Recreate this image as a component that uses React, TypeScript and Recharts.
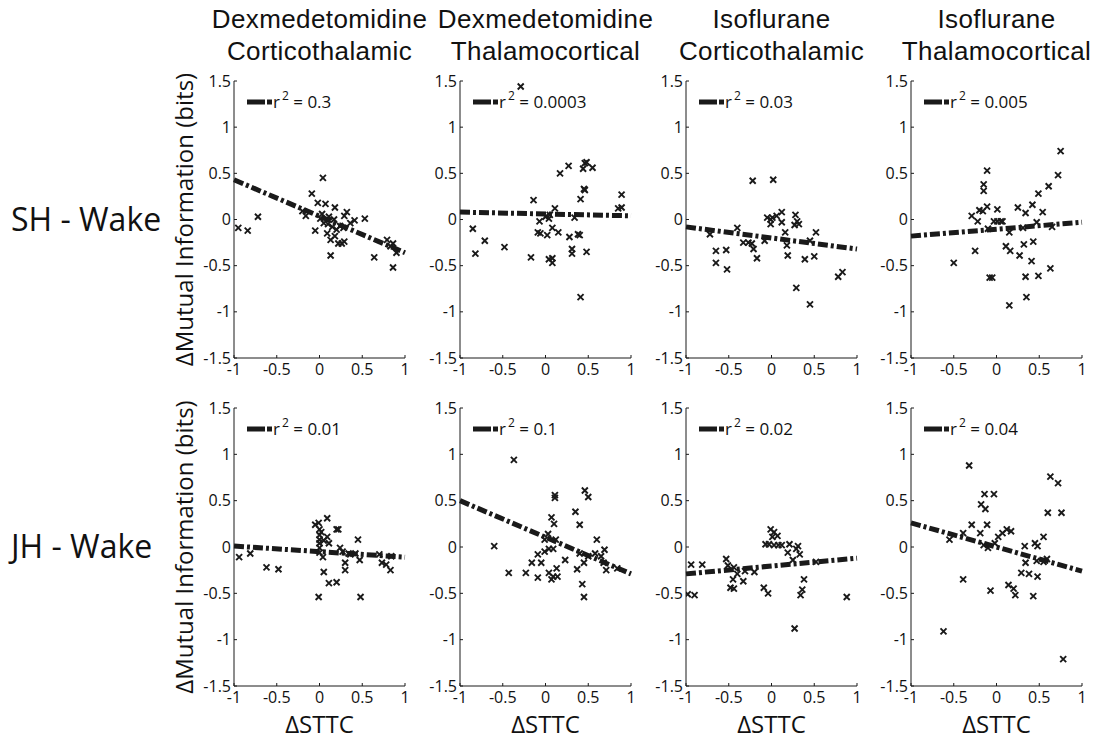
import React from 'react';
import { ScatterChart, Scatter, XAxis, YAxis, ReferenceLine } from 'recharts';

const titleLine1 = ['Dexmedetomidine', 'Dexmedetomidine', 'Isoflurane', 'Isoflurane'];
const titleLine2 = ['Corticothalamic', 'Thalamocortical', 'Corticothalamic', 'Thalamocortical'];
const rowLabels = ['SH - Wake', 'JH - Wake'];
const yAxisLabel = 'ΔMutual Information (bits)';
const xAxisLabel = 'ΔSTTC';
const xTicks = [-1, -0.5, 0, 0.5, 1];
const yTicks = [-1.5, -1, -0.5, 0, 0.5, 1, 1.5];
const r2Values = ['0.3', '0.0003', '0.03', '0.005', '0.01', '0.1', '0.02', '0.04'];
const fitAtMinus1 = [0.43, 0.08, -0.08, -0.18, 0.01, 0.5, -0.29, 0.26];
const fitAtPlus1 = [-0.36, 0.04, -0.32, -0.03, -0.11, -0.29, -0.12, -0.26];

type P = [number, number];

const shDexCorticothalamic: P[] = [
  [-0.95, -0.09], [-0.84, -0.12], [-0.72, 0.03], [0.04, 0.45], [-0.09, 0.28], [-0.02, 0.18], [0.07, 0.17],
  [0.18, 0.13], [-0.2, 0.09], [-0.16, 0.04], [-0.05, -0.12], [0.13, -0.39], [0.32, 0.08], [0.29, 0.04],
  [0.41, -0.01], [0.53, 0.01], [0.64, -0.41], [0.86, -0.52], [0.79, -0.22], [0.86, -0.26], [0.9, -0.36],
  [0.83, -0.29], [0.05, -0.04], [0.09, -0.15], [0.15, -0.08], [0.18, -0.18], [0.2, -0.11], [0.24, -0.07],
  [0.28, -0.09], [0.22, -0.26], [0.26, -0.26], [0.17, 0.0], [0.11, 0.03], [0.01, 0.01], [0.13, -0.22],
  [0.29, -0.24], [0.03, 0.06], [0.1, -0.05], [0.36, -0.04],
];
const shDexThalamocortical: P[] = [
  [-0.29, 1.44], [-0.85, -0.1], [-0.82, -0.37], [-0.71, -0.23], [-0.48, -0.3], [-0.14, 0.21], [-0.17, -0.41],
  [-0.07, -0.02], [-0.09, -0.14], [-0.06, -0.15], [0.02, -0.17], [0.0, 0.03], [0.04, 0.01], [0.05, 0.05],
  [0.11, 0.12], [0.08, -0.09], [0.15, -0.14], [0.04, -0.43], [0.08, -0.42], [0.08, -0.47], [0.17, 0.5],
  [0.27, 0.58], [0.28, -0.19], [0.31, -0.32], [0.31, -0.37], [0.34, 0.02], [0.38, -0.16], [0.4, -0.17],
  [0.41, 0.22], [0.44, 0.55], [0.46, 0.61], [0.46, 0.32], [0.45, 0.33], [0.48, -0.35], [0.55, 0.56],
  [0.41, -0.84], [0.85, 0.12], [0.89, 0.27], [0.89, 0.13], [0.48, 0.62],
];
const shIsoCorticothalamic: P[] = [
  [-0.72, -0.16], [-0.65, -0.34], [-0.65, -0.47], [-0.53, -0.33], [-0.52, -0.54], [-0.4, -0.09], [-0.33, -0.25],
  [-0.27, -0.25], [-0.22, 0.42], [-0.23, -0.26], [-0.21, -0.32], [-0.17, -0.42], [-0.08, -0.23], [-0.05, 0.02],
  [-0.01, 0.0], [0.01, 0.02], [0.02, 0.43], [-0.01, -0.05], [0.06, 0.04], [0.12, 0.08], [0.12, -0.03],
  [0.16, -0.14], [0.18, -0.28], [0.19, -0.39], [0.27, -0.06], [0.28, 0.05], [0.3, -0.02], [0.32, -0.05],
  [0.29, -0.74], [0.39, -0.43], [0.45, -0.23], [0.45, -0.92], [0.5, -0.4], [0.52, -0.14], [0.78, -0.62],
  [0.83, -0.57],
];
const shIsoThalamocortical: P[] = [
  [-0.5, -0.47], [-0.29, 0.04], [-0.25, -0.34], [-0.22, -0.02], [-0.2, 0.1], [-0.16, 0.09], [-0.15, 0.38],
  [-0.15, 0.31], [-0.11, 0.53], [-0.11, 0.14], [-0.1, -0.1], [-0.08, -0.63], [-0.05, -0.63], [-0.03, -0.02],
  [0.01, 0.11], [0.01, -0.02], [0.05, -0.02], [0.07, -0.02], [0.11, -0.29], [0.15, -0.14], [0.16, -0.34],
  [0.15, -0.93], [0.25, 0.13], [0.27, -0.39], [0.31, -0.09], [0.32, -0.27], [0.34, 0.07], [0.34, -0.62],
  [0.35, -0.84], [0.42, 0.16], [0.43, -0.24], [0.41, -0.45], [0.47, -0.03], [0.49, 0.28], [0.49, -0.61],
  [0.54, 0.08], [0.61, 0.36], [0.63, -0.53], [0.65, -0.08], [0.72, 0.48], [0.75, 0.74],
];
const jhDexCorticothalamic: P[] = [
  [-0.94, -0.11], [-0.81, -0.07], [-0.62, -0.22], [-0.48, -0.24], [-0.05, 0.24], [-0.01, 0.26], [0.0, 0.19],
  [0.0, 0.13], [0.0, 0.08], [0.0, 0.04], [0.0, -0.01], [0.0, -0.06], [0.04, -0.11], [0.05, -0.27],
  [-0.01, -0.54], [0.09, 0.31], [0.09, 0.11], [0.11, 0.04], [0.11, -0.39], [0.2, -0.38], [0.2, 0.19],
  [0.22, 0.19], [0.24, -0.01], [0.27, -0.05], [0.3, -0.17], [0.3, -0.25], [0.34, -0.07], [0.36, -0.08],
  [0.42, -0.07], [0.45, 0.08], [0.47, -0.14], [0.48, -0.54], [0.7, -0.08], [0.73, -0.17], [0.78, -0.19],
  [0.83, -0.25], [0.84, -0.1], [0.02, 0.16], [0.05, 0.07],
];
const jhDexThalamocortical: P[] = [
  [-0.37, 0.94], [-0.6, 0.01], [-0.43, -0.28], [-0.23, -0.28], [-0.16, -0.17], [-0.09, -0.33], [-0.05, -0.17],
  [-0.09, -0.08], [-0.01, -0.05], [-0.01, 0.08], [0.03, 0.14], [0.07, 0.32], [0.1, 0.25], [0.11, 0.53],
  [0.11, 0.56], [0.12, 0.08], [0.04, -0.02], [0.09, -0.02], [0.04, -0.28], [0.07, -0.35], [0.09, -0.32],
  [0.14, -0.32], [0.13, -0.23], [0.23, -0.14], [0.35, 0.38], [0.37, -0.24], [0.4, 0.24], [0.4, -0.07],
  [0.43, -0.4], [0.45, -0.54], [0.45, -0.17], [0.46, 0.61], [0.5, 0.54], [0.5, -0.1], [0.58, -0.07],
  [0.6, 0.08], [0.65, -0.1], [0.68, -0.17], [0.69, -0.03], [0.71, -0.25], [0.84, -0.23],
];
const jhIsoCorticothalamic: P[] = [
  [-0.98, -0.51], [-0.9, -0.52], [-0.94, -0.19], [-0.81, -0.19], [-0.53, -0.13], [-0.51, -0.2], [-0.48, -0.44],
  [-0.44, -0.45], [-0.45, -0.35], [-0.44, -0.22], [-0.4, -0.29], [-0.33, -0.37], [-0.31, -0.26], [-0.2, -0.27],
  [-0.09, -0.44], [-0.04, -0.5], [-0.07, 0.03], [-0.03, 0.03], [-0.01, 0.19], [0.03, 0.16], [0.01, 0.11],
  [0.03, 0.02], [0.07, 0.12], [0.08, 0.02], [0.12, 0.02], [0.21, 0.03], [0.19, -0.06], [0.25, -0.14],
  [0.29, -0.02], [0.31, 0.01], [0.33, -0.08], [0.34, -0.52], [0.36, -0.46], [0.38, -0.35], [0.27, -0.88],
  [0.52, -0.16], [0.88, -0.54],
];
const jhIsoThalamocortical: P[] = [
  [-0.62, -0.91], [-0.55, 0.08], [-0.39, -0.35], [-0.39, 0.15], [-0.32, 0.88], [-0.29, 0.24], [-0.19, 0.15],
  [-0.18, 0.46], [-0.14, 0.57], [-0.13, 0.41], [-0.11, 0.24], [-0.15, 0.02], [-0.1, -0.01], [-0.07, -0.47],
  [-0.03, 0.57], [-0.02, 0.04], [0.02, 0.11], [0.07, 0.15], [0.12, 0.19], [0.14, -0.41], [0.17, 0.17],
  [0.2, -0.45], [0.22, -0.52], [0.29, -0.28], [0.33, 0.01], [0.34, -0.17], [0.38, -0.29], [0.43, -0.53],
  [0.45, 0.04], [0.48, 0.01], [0.48, -0.32], [0.47, -0.15], [0.55, 0.11], [0.55, -0.16], [0.59, -0.13],
  [0.6, 0.37], [0.63, 0.76], [0.72, 0.69], [0.76, 0.37], [0.78, -1.21],
];

const panelData: P[][] = [
  shDexCorticothalamic, shDexThalamocortical, shIsoCorticothalamic, shIsoThalamocortical,
  jhDexCorticothalamic, jhDexThalamocortical, jhIsoCorticothalamic, jhIsoThalamocortical,
];

const COL_LEFT = [234, 460, 686, 911];
const ROW_TOP = [81, 408];
const ROW_H = [277, 278];
const PLOT_W = 171;
const Y_AXIS_W = 45;
const X_AXIS_H = 28;
const M_TOP = 10;
const M_RIGHT = 10;

const INK = '#1a1a1a';
const TICK_FONT = '"Open Sans", "Noto Sans", sans-serif';

const XMark = (props: any) => {
  const { cx, cy } = props;
  if (cx == null || cy == null) return null;
  const r = 3;
  return (
    <path
      d={`M${cx - r},${cy - r}L${cx + r},${cy + r}M${cx + r},${cy - r}L${cx - r},${cy + r}`}
      stroke={INK}
      strokeWidth={1.9}
      fill="none"
    />
  );
};

const YTick = (props: any) => {
  const { x, y, payload } = props;
  return (
    <g>
      <line x1={x + 3} x2={x + 6} y1={y} y2={y} stroke={INK} strokeWidth={1} />
      <text x={x} y={y + 5.5} textAnchor="end" fontSize={16} fontFamily={TICK_FONT} fill="#111">
        {String(payload.value)}
      </text>
    </g>
  );
};

const XTick = (props: any) => {
  const { x, y, payload } = props;
  return (
    <g>
      <line x1={x} x2={x} y1={y} y2={y - 3} stroke={INK} strokeWidth={1} />
      <text x={x} y={y + 17} textAnchor="middle" fontSize={16} fontFamily={TICK_FONT} fill="#111">
        {String(payload.value)}
      </text>
    </g>
  );
};

const Panel = ({ idx }: { idx: number }) => {
  const row = Math.floor(idx / 4);
  const col = idx % 4;
  const h = ROW_H[row];
  const width = Y_AXIS_W + PLOT_W + M_RIGHT;
  const height = M_TOP + h + X_AXIS_H;
  const data = panelData[idx].map(([x, y]) => ({ x, y }));
  return (
    <div
      style={{
        position: 'absolute',
        left: COL_LEFT[col] - Y_AXIS_W,
        top: ROW_TOP[row] - M_TOP,
        width,
        height,
      }}
    >
      <ScatterChart width={width} height={height} margin={{ top: M_TOP, right: M_RIGHT, bottom: 0, left: 0 }}>
        <XAxis
          type="number"
          dataKey="x"
          domain={[-1, 1]}
          ticks={xTicks}
          interval={0}
          allowDataOverflow
          height={X_AXIS_H}
          tickSize={0}
          tickMargin={0}
          tickLine={false}
          axisLine={{ stroke: INK, strokeWidth: 1 }}
          tick={<XTick />}
        />
        <YAxis
          type="number"
          dataKey="y"
          domain={[-1.5, 1.5]}
          ticks={yTicks}
          interval={0}
          allowDataOverflow
          width={Y_AXIS_W}
          tickSize={0}
          tickMargin={3}
          tickLine={false}
          axisLine={{ stroke: INK, strokeWidth: 1 }}
          tick={<YTick />}
        />
        <ReferenceLine
          segment={[
            { x: -1, y: fitAtMinus1[idx] },
            { x: 1, y: fitAtPlus1[idx] },
          ]}
          stroke={INK}
          strokeWidth={5}
          strokeDasharray="10 3 3 3"
          ifOverflow="visible"
        />
        <Scatter data={data} shape={<XMark />} isAnimationActive={false} />
      </ScatterChart>
    </div>
  );
};

export default function App() {
  const labelFont = '"Open Sans", "Noto Sans", sans-serif';
  return (
    <div style={{ position: 'absolute', left: 0, top: 0, width: 1107, height: 740, background: '#fff', overflow: 'hidden' }}>
      {panelData.map((_, i) => (
        <Panel key={i} idx={i} />
      ))}
      <svg width={1107} height={740} style={{ position: 'absolute', left: 0, top: 0, pointerEvents: 'none' }}>
        {COL_LEFT.map((l, c) => (
          <g key={'t' + c}>
            <text x={l + PLOT_W / 2} y={28} textAnchor="middle" fontSize={26} letterSpacing={0.4}
              fontFamily='"Liberation Sans", Arial, sans-serif' fill="#111">{titleLine1[c]}</text>
            <text x={l + PLOT_W / 2} y={60} textAnchor="middle" fontSize={26} letterSpacing={0.4}
              fontFamily='"Liberation Sans", Arial, sans-serif' fill="#111">{titleLine2[c]}</text>
            <text x={l + PLOT_W / 2} y={733} textAnchor="middle" fontSize={24}
              fontFamily={labelFont} fill="#111">{xAxisLabel}</text>
          </g>
        ))}
        {ROW_TOP.map((t, r) => (
          <g key={'r' + r}>
            <text x={11} y={t + ROW_H[r] / 2 + 11} fontSize={32} fontFamily={labelFont} fill="#111">{rowLabels[r]}</text>
            <text transform={`translate(193, ${t + ROW_H[r] / 2}) rotate(-90)`} textAnchor="middle" fontSize={24}
              fontFamily={labelFont} fill="#111">{yAxisLabel}</text>
          </g>
        ))}
        {panelData.map((_, i) => {
          const row = Math.floor(i / 4);
          const col = i % 4;
          const l = COL_LEFT[col];
          const t = ROW_TOP[row];
          return (
            <g key={'lg' + i}>
              <line x1={l + 13} x2={l + 38} y1={t + 21} y2={t + 21} stroke={INK} strokeWidth={5} strokeDasharray="18 2 5 2" />
              <text x={l + 39} y={t + 27} fontSize={17} fontFamily={labelFont} fill="#111">
                r<tspan fontSize={12} dy={-8} dx={2}>2</tspan>
                <tspan dy={8}>{' = ' + r2Values[i]}</tspan>
              </text>
            </g>
          );
        })}
      </svg>
    </div>
  );
}
